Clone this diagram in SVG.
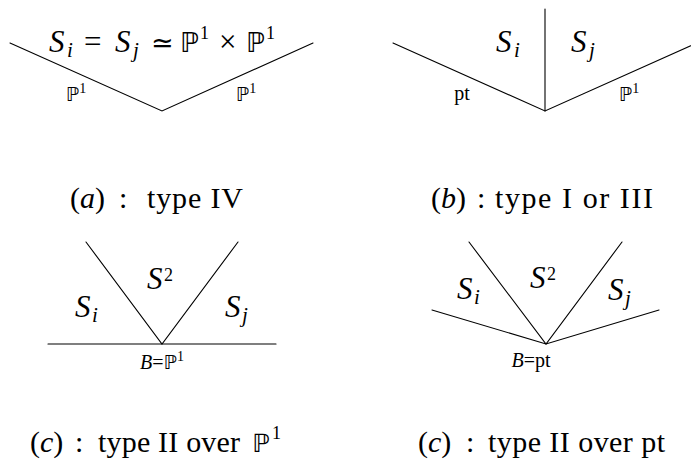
<svg xmlns="http://www.w3.org/2000/svg" width="691" height="461" viewBox="0 0 691 461">
<style>
  .ln { stroke: #000; stroke-width: 1.1; fill: none; stroke-linecap: round; }
  text { font-family: "Liberation Serif", "DejaVu Serif", "DejaVu Sans", serif; fill: #000; }
  .big { font-size: 31px; }
  .sub { font-size: 21px; }
  .sup { font-size: 18px; }
  .sm { font-size: 20px; text-anchor: middle; }
  .cap { font-size: 30px; }
  .it { font-style: italic; }
  .bb { font-family: "DejaVu Sans", sans-serif; }
  .bbs { font-family: "DejaVu Sans", sans-serif; font-size: 19px; }
</style>
<rect width="691" height="461" fill="#fff"/>
<g id="connectors">
  <polyline class="ln" points="10,43 162,111 313,43"/>
  <polyline class="ln" points="393,43 545,111 697,43"/>
  <line class="ln" x1="545" y1="9" x2="545" y2="111"/>
  <line class="ln" x1="48" y1="344" x2="276" y2="344"/>
  <polyline class="ln" points="86,242 162,344 238,242"/>
  <polyline class="ln" points="432,310 546,344 659,310"/>
  <polyline class="ln" points="469,242 546,344 622,242"/>
</g>
<g id="panel-a">
  <text class="big it" x="49" y="52">S</text>
  <text class="sub it" x="67" y="57">i</text>
  <text class="big" x="84" y="52">=</text>
  <text class="big it" x="115" y="52">S</text>
  <text class="sub it" x="133" y="57">j</text>
  <text class="big bb" x="151" y="52" style="font-size:27px">≃</text>
  <text class="big bb" x="180" y="52" style="font-size:27px">ℙ</text>
  <text class="sup" x="200" y="39">1</text>
  <text class="big" x="219" y="52">×</text>
  <text class="big bb" x="246" y="52" style="font-size:27px">ℙ</text>
  <text class="sup" x="266" y="39">1</text>
  <text class="sm" x="76" y="101"><tspan class="bbs">ℙ</tspan><tspan dy="-8" style="font-size:14px">1</tspan></text>
  <text class="sm" x="246" y="101"><tspan class="bbs">ℙ</tspan><tspan dy="-8" style="font-size:14px">1</tspan></text>
  <text class="cap" x="70" y="208">(<tspan class="it">a</tspan>)</text>
  <text class="cap" x="119" y="208">:</text>
  <text class="cap" x="147" y="208" textLength="96" lengthAdjust="spacing">type IV</text>
</g>
<g id="panel-b">
  <text class="big it" x="496" y="52">S</text>
  <text class="sub it" x="514" y="57">i</text>
  <text class="big it" x="571" y="52">S</text>
  <text class="sub it" x="589" y="57">j</text>
  <text class="sm" x="462" y="100">pt</text>
  <text class="sm" x="629" y="101"><tspan class="bbs">ℙ</tspan><tspan dy="-8" style="font-size:14px">1</tspan></text>
  <text class="cap" x="431" y="208">(<tspan class="it">b</tspan>)</text>
  <text class="cap" x="477" y="208">:</text>
  <text class="cap" x="495" y="208" textLength="158" lengthAdjust="spacing">type I or III</text>
</g>
<g id="panel-c1">
  <text class="big it" x="147" y="289">S</text>
  <text class="sup" x="164" y="281">2</text>
  <text class="big it" x="75" y="317">S</text>
  <text class="sub it" x="92" y="322">i</text>
  <text class="big it" x="225" y="317">S</text>
  <text class="sub it" x="242" y="322">j</text>
  <text class="sm" x="162" y="369"><tspan class="it">B</tspan>=<tspan class="bbs">ℙ</tspan><tspan dy="-8" style="font-size:14px">1</tspan></text>
  <text class="cap" x="30" y="452">(<tspan class="it">c</tspan>)</text>
  <text class="cap" x="75" y="452">:</text>
  <text class="cap" x="98" y="452" textLength="142" lengthAdjust="spacing">type II over</text>
  <text class="cap bb" x="252" y="452" style="font-size:25px">ℙ</text>
  <text class="sup" x="272" y="439">1</text>
</g>
<g id="panel-c2">
  <text class="big it" x="530" y="288">S</text>
  <text class="sup" x="547" y="280">2</text>
  <text class="big it" x="457" y="299">S</text>
  <text class="sub it" x="474" y="304">i</text>
  <text class="big it" x="608" y="300">S</text>
  <text class="sub it" x="625" y="305">j</text>
  <text class="sm" x="531" y="367"><tspan class="it">B</tspan>=pt</text>
  <text class="cap" x="418" y="452">(<tspan class="it">c</tspan>)</text>
  <text class="cap" x="466" y="452">:</text>
  <text class="cap" x="488" y="452" textLength="177" lengthAdjust="spacing">type II over pt</text>
</g>
</svg>
